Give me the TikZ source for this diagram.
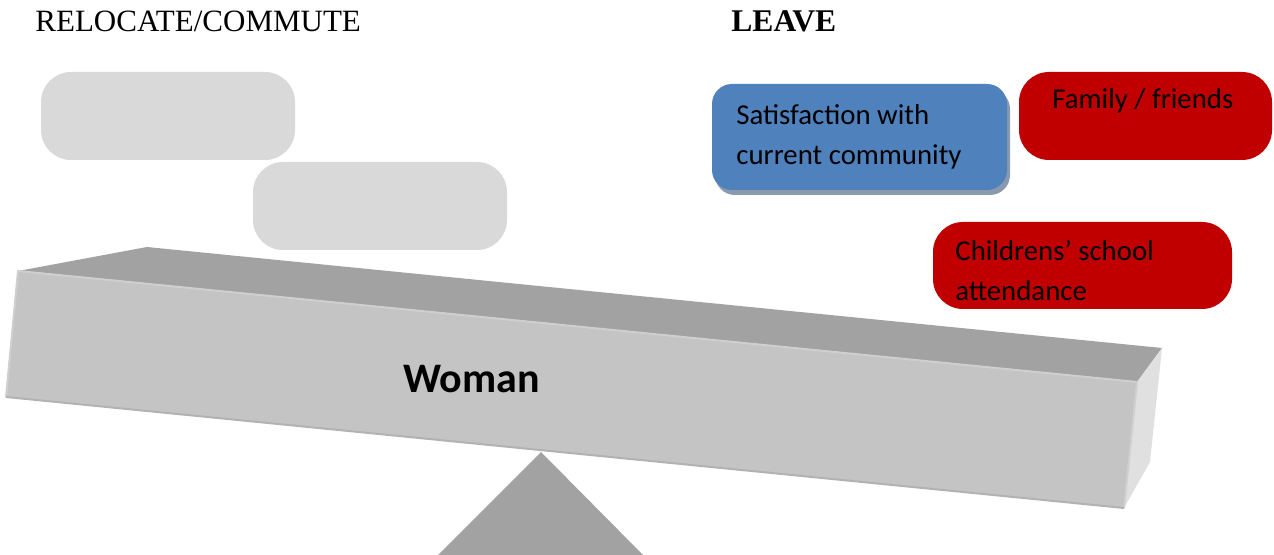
\documentclass[tikz,border=0pt]{standalone}
\usepackage{fontspec}
\setmainfont{Liberation Serif}
\newfontfamily\calibri{Carlito}
\usetikzlibrary{shadows}

\definecolor{beamtop}{HTML}{A2A2A2}
\definecolor{beamfront}{HTML}{C4C4C4}
\definecolor{beamside}{HTML}{E0E0E0}
\definecolor{blankbox}{HTML}{D9D9D9}
\definecolor{stayblue}{HTML}{4F81BD}
\definecolor{stayshadow}{HTML}{8A99AE}
\definecolor{leavered}{HTML}{C00000}

\tikzset{
  blank/.style={fill=blankbox, rounded corners=15pt, inner sep=0pt,
    minimum width=127pt, minimum height=44pt},
  redbox/.style={fill=leavered, rounded corners=15pt, inner sep=0pt},
  bluebox/.style={fill=stayblue, rounded corners=10pt, inner sep=0pt,
    drop shadow={shadow xshift=1.5pt, shadow yshift=-2.5pt, fill=stayshadow, opacity=1}},
  boxtext/.style={font=\calibri\fontsize{14.4}{20}\selectfont, align=left, inner sep=0pt, anchor=base west},
  heading/.style={font=\fontsize{15.5}{18}\selectfont, inner sep=0pt, anchor=base west}
}

\begin{document}
\begin{tikzpicture}[x=0.5pt, y=-0.5pt]
    \useasboundingbox (0,0) rectangle (1274,555);

    % titles
    \node[heading] (relocate) at (35,32) {RELOCATE/COMMUTE};
    \node[heading, font=\bfseries\fontsize{15.8}{18}\selectfont] (leave) at (731,32) {LEAVE};

    % empty boxes on the left
    \node[blank] (blankA) at (168,116) {};
    \node[blank] (blankB) at (380,206) {};

    % boxes on the right (base = last line)
    \node[bluebox, minimum width=147.5pt, minimum height=53pt] (community) at (859.5,137) {};
    \node[boxtext] (communitytext) at (736,165) {Satisfaction with\\current community};
    \node[redbox, minimum width=126.5pt, minimum height=44pt] (family) at (1145.5,116) {};
    \node[boxtext] (familytext) at (1052,109) {Family / friends};
    \node[redbox, minimum width=149.5pt, minimum height=43.5pt] (school) at (1082.5,265.5) {};
    \node[boxtext] (schooltext) at (955,301) {Childrens’ school\\attendance};

    % fulcrum
    \fill[beamtop] (541,452) -- (643,555) -- (438,555) -- cycle;

    % beam
    \fill[beamtop] (147,247) -- (1162,348) -- (1137,382) -- (18,271) -- cycle;
    \fill[beamfront] (18,271) -- (1137,382) -- (1124,508) -- (6,397) -- cycle;
    \fill[beamside] (1137,382) -- (1162,348) -- (1150,462) -- (1124,508) -- cycle;
    \draw[line width=1pt, black!19] (6,397) -- (18,271) -- (1137,382) -- (1124,508);
    \draw[line width=1pt, black!30] (6,397) -- (1124,508);

    \node[font=\calibri\bfseries\fontsize{21}{24}\selectfont, inner sep=0pt, anchor=base] (woman) at (471.5,393) {Woman};
\end{tikzpicture}
\end{document}
